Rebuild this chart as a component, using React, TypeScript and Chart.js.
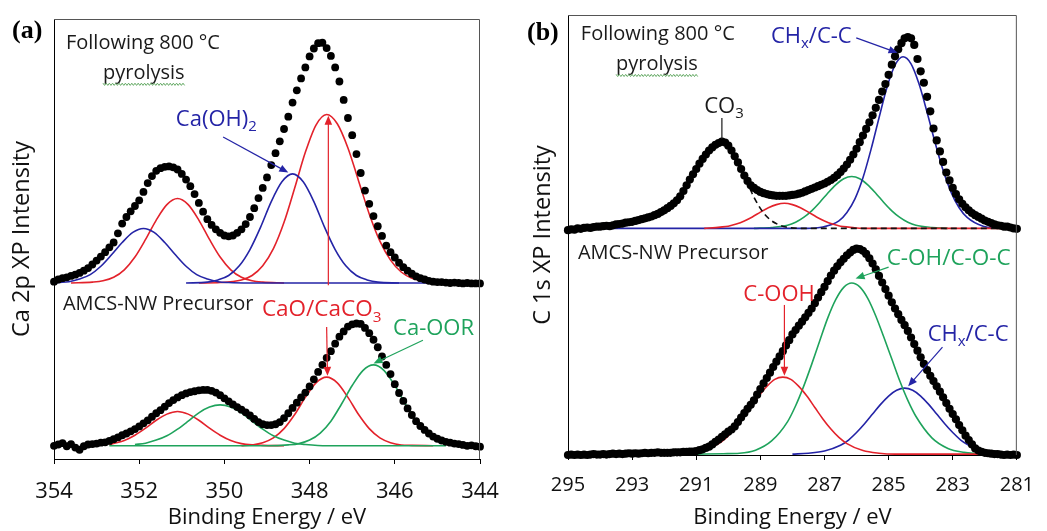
import { useEffect, useRef } from 'react';
import { Chart, registerables } from 'chart.js';

Chart.register(...registerables);

const FONT = "'Open Sans', 'Noto Sans', sans-serif";
const BLUE = '#2424a6';
const RED = '#e3222b';
const GREEN = '#1fa35c';
const INK = '#1a1a1a';

// ---------- Panel (a): Ca 2p ----------
const caEnergy = [
  354, 353.9, 353.8, 353.7, 353.6, 353.5, 353.4, 353.3, 353.2, 353.1,
  353, 352.9, 352.8, 352.7, 352.6, 352.5, 352.4, 352.3, 352.2, 352.1,
  352, 351.9, 351.8, 351.7, 351.6, 351.5, 351.4, 351.3, 351.2, 351.1,
  351, 350.9, 350.8, 350.7, 350.6, 350.5, 350.4, 350.3, 350.2, 350.1,
  350, 349.9, 349.8, 349.7, 349.6, 349.5, 349.4, 349.3, 349.2, 349.1,
  349, 348.9, 348.8, 348.7, 348.6, 348.5, 348.4, 348.3, 348.2, 348.1,
  348, 347.9, 347.8, 347.7, 347.6, 347.5, 347.4, 347.3, 347.2, 347.1,
  347, 346.9, 346.8, 346.7, 346.6, 346.5, 346.4, 346.3, 346.2, 346.1,
  346, 345.9, 345.8, 345.7, 345.6, 345.5, 345.4, 345.3, 345.2, 345.1,
  345, 344.9, 344.8, 344.7, 344.6, 344.5, 344.4, 344.3, 344.2, 344.1,
  344,
];

// "Following 800 °C pyrolysis" spectrum (offset upward)
const caTopCounts = [
  40.3, 40.8, 41.1, 41.3, 41.6, 41.9, 42.3, 42.8, 43.4, 44.2,
  45.1, 46.0, 47.0, 48.1, 49.2, 51.3, 53.5, 55.0, 56.3, 57.5,
  58.8, 60.7, 62.7, 64.3, 65.5, 66.1, 66.4, 66.5, 66.3, 65.8,
  64.8, 63.5, 62.0, 60.2, 58.2, 56.2, 54.5, 53.2, 52.2, 51.4,
  50.8, 50.6, 50.8, 51.4, 52.2, 53.4, 55.0, 57.0, 59.3, 61.6,
  64.0, 66.8, 69.5, 72.2, 75.0, 77.8, 81.0, 83.8, 86.5, 89.0,
  91.5, 93.3, 94.5, 94.6, 93.4, 91.6, 89.0, 85.8, 81.6, 77.5,
  73.6, 69.3, 65.0, 61.0, 58.0, 55.2, 52.9, 50.7, 48.5, 47.0,
  45.8, 44.6, 43.6, 42.8, 42.1, 41.5, 41.1, 40.8, 40.5, 40.3,
  40.2, 40.2, 40.1, 40.0, 40.1, 40.0, 39.9, 40.0, 39.9, 39.9,
  39.9,
];

// "AMCS-NW Precursor" spectrum
const caBottomCounts = [
  3.0, 3.3, 3.6, 2.9, 3.4, 2.6, 2.1, 2.9, 3.3, 3.4,
  3.5, 3.7, 3.8, 4.1, 4.5, 4.9, 5.4, 5.8, 6.3, 6.8,
  7.4, 8.1, 8.8, 9.6, 10.4, 11.1, 11.9, 12.7, 13.4, 14.0,
  14.5, 14.9, 15.2, 15.4, 15.6, 15.7, 15.7, 15.5, 15.1, 14.5,
  13.8, 13.1, 12.4, 11.8, 11.2, 10.6, 9.9, 9.1, 8.4, 7.9,
  7.7, 7.7, 7.9, 8.4, 9.3, 10.4, 11.6, 12.8, 14.0, 15.1,
  16.5, 18.1, 19.8, 21.4, 23.0, 24.5, 26.2, 27.8, 29.0, 30.1,
  30.6, 30.8, 30.7, 29.8, 28.6, 27.1, 25.4, 23.3, 21.4, 19.3,
  17.0, 15.0, 13.2, 11.5, 10.0, 8.6, 7.5, 6.6, 5.8, 5.1,
  4.6, 4.2, 3.9, 3.7, 3.5, 3.4, 3.2, 3.0, 3.1, 2.9,
  2.8,
];

// fitted components [energy, intensity]
const caTopBlue1: [number, number][] = [
  [354, 40], [353.9, 40.1], [353.65, 40.3], [353.4, 40.9], [353.15, 41.9], [352.9, 43.8],
  [352.65, 46.4], [352.4, 49.2], [352.15, 51.5], [351.9, 52.4], [351.65, 51.5], [351.4, 49.2],
  [351.15, 46.4], [350.9, 43.8], [350.65, 41.9], [350.4, 40.9], [350.15, 40.3], [349.9, 40.1],
  [349.4, 40], [344, 40],
];
const caTopRed1: [number, number][] = [
  [353.6, 40], [353.1, 40.2], [352.85, 40.5], [352.6, 41.3], [352.35, 43.0],
  [352.1, 45.9], [351.85, 49.9], [351.6, 54.3], [351.35, 57.8], [351.1, 59.2], [350.85, 57.8],
  [350.6, 54.3], [350.35, 49.9], [350.1, 45.9], [349.85, 43.0], [349.6, 41.3], [349.35, 40.5],
  [349.1, 40.2], [348.6, 40],
];
const caTopBlue2: [number, number][] = [
  [350.9, 40], [350.4, 40.2], [350.15, 40.7], [349.9, 41.7], [349.65, 43.9],
  [349.4, 47.6], [349.15, 52.7], [348.9, 58.5], [348.65, 63.0], [348.4, 64.8], [348.15, 63.0],
  [347.9, 58.5], [347.65, 52.7], [347.4, 47.6], [347.15, 43.9], [346.9, 41.7], [346.65, 40.7],
  [346.4, 40.2], [345.9, 40],
];
const caTopRed2: [number, number][] = [
  [350.6, 40], [350.1, 40.1], [349.6, 40.7], [349.35, 41.7], [349.1, 43.9],
  [348.85, 47.8], [348.6, 53.8], [348.35, 61.6], [348.1, 69.7], [347.85, 75.9], [347.6, 78.3],
  [347.35, 76.2], [347.1, 70.7], [346.85, 63.2], [346.6, 55.7], [346.35, 49.5], [346.1, 45.2],
  [345.85, 42.5], [345.6, 41.1], [345.1, 40.2], [344.6, 40],
];
const caBotRed1: [number, number][] = [
  [352.7, 3.2], [352.6, 3.5], [352.35, 4.2], [352.1, 5.4], [351.85, 7.0], [351.6, 8.8],
  [351.35, 10.2], [351.1, 10.8], [350.85, 10.2], [350.6, 8.8], [350.35, 7.0], [350.1, 5.4],
  [349.85, 4.2], [349.6, 3.5], [349.35, 3.2], [349.1, 3.1], [348.6, 3.0],
];
const caBotGreen1: [number, number][] = [
  [352.1, 3.3], [351.85, 3.6], [351.6, 4.3], [351.35, 5.3], [351.1, 6.8],
  [350.85, 8.6], [350.6, 10.5], [350.35, 11.8], [350.1, 12.3], [349.85, 11.8], [349.6, 10.5],
  [349.35, 8.6], [349.1, 6.8], [348.85, 5.3], [348.6, 4.3], [348.35, 3.6], [348.1, 3.3],
  [347.6, 3.0], [344.8, 3.0],
];
const caBotRed2: [number, number][] = [
  [349.6, 3.0], [349.35, 3.2], [349.1, 3.7], [348.85, 4.8], [348.6, 6.9],
  [348.35, 10.1], [348.1, 14.0], [347.85, 17.3], [347.6, 18.6], [347.35, 17.3], [347.1, 14.0],
  [346.85, 10.1], [346.6, 6.9], [346.35, 4.8], [346.1, 3.7], [345.85, 3.2], [345.6, 3.1],
  [345.1, 3.0],
];
const caBotGreen2: [number, number][] = [
  [352.7, 3.0], [349.0, 3.0], [348.5, 3.2], [348.25, 3.5], [348.0, 4.3], [347.75, 5.9],
  [347.5, 8.6], [347.25, 12.5], [347.0, 16.7], [346.75, 20.1], [346.5, 21.4], [346.25, 20.1],
  [346.0, 16.7], [345.75, 12.5], [345.5, 8.6], [345.25, 5.9], [345.0, 4.3], [344.8, 3.6],
];

// ---------- Panel (b): C 1s ----------
const cEnergy = [
  295, 294.9, 294.8, 294.7, 294.6, 294.5, 294.4, 294.3, 294.2, 294.1,
  294, 293.9, 293.8, 293.7, 293.6, 293.5, 293.4, 293.3, 293.2, 293.1,
  293, 292.9, 292.8, 292.7, 292.6, 292.5, 292.4, 292.3, 292.2, 292.1,
  292, 291.9, 291.8, 291.7, 291.6, 291.5, 291.4, 291.3, 291.2, 291.1,
  291, 290.9, 290.8, 290.7, 290.6, 290.5, 290.4, 290.3, 290.2, 290.1,
  290, 289.9, 289.8, 289.7, 289.6, 289.5, 289.4, 289.3, 289.2, 289.1,
  289, 288.9, 288.8, 288.7, 288.6, 288.5, 288.4, 288.3, 288.2, 288.1,
  288, 287.9, 287.8, 287.7, 287.6, 287.5, 287.4, 287.3, 287.2, 287.1,
  287, 286.9, 286.8, 286.7, 286.6, 286.5, 286.4, 286.3, 286.2, 286.1,
  286, 285.9, 285.8, 285.7, 285.6, 285.5, 285.4, 285.3, 285.2, 285.1,
  285, 284.9, 284.8, 284.7, 284.6, 284.5, 284.4, 284.3, 284.2, 284.1,
  284, 283.9, 283.8, 283.7, 283.6, 283.5, 283.4, 283.3, 283.2, 283.1,
  283, 282.9, 282.8, 282.7, 282.6, 282.5, 282.4, 282.3, 282.2, 282.1,
  282, 281.9, 281.8, 281.7, 281.6, 281.5, 281.4, 281.3, 281.2, 281.1,
  281,
];

const cTopCounts = [
  51.1, 51.3, 51.2, 51.5, 51.4, 51.6, 51.7, 51.6, 51.8, 51.9,
  51.9, 52.0, 52.1, 52.0, 52.2, 52.4, 52.5, 52.6, 52.8, 52.9,
  53.0, 53.2, 53.4, 53.6, 53.8, 54.0, 54.2, 54.5, 54.8, 55.2,
  55.6, 56.1, 56.6, 57.2, 57.9, 58.8, 60.0, 61.3, 62.6, 63.8,
  65.0, 66.2, 67.3, 68.3, 69.2, 69.9, 70.5, 70.9, 71.2, 71.0,
  70.3, 69.2, 67.9, 66.5, 65.0, 63.5, 62.3, 61.3, 60.7, 60.2,
  59.8, 59.5, 59.3, 59.1, 59.0, 58.9, 58.9, 58.9, 58.9, 59.0,
  59.1, 59.2, 59.4, 59.6, 59.9, 60.2, 60.5, 60.8, 61.1, 61.4,
  61.7, 62.1, 62.5, 63.0, 63.6, 64.3, 65.1, 66.0, 67.1, 68.3,
  69.6, 71.1, 72.6, 74.1, 75.6, 77.2, 78.9, 80.7, 82.6, 84.3,
  86.4, 88.7, 90.6, 92.2, 93.6, 94.7, 95.0, 94.7, 93.2, 90.0,
  87.2, 84.6, 81.4, 78.1, 74.2, 71.5, 69.0, 66.6, 64.2, 62.4,
  60.7, 59.3, 58.1, 57.1, 56.3, 55.6, 55.0, 54.5, 54.1, 53.7,
  53.3, 53.0, 52.7, 52.4, 52.2, 52.1, 51.9, 51.9, 51.7, 51.5,
  51.4,
];

const cBottomCounts = [
  0.0, 0.1, 0.0, 0.1, 0.0, 0.1, 0.0, 0.1, 0.2, 0.1,
  0.1, 0.2, 0.1, 0.2, 0.3, 0.2, 0.3, 0.2, 0.3, 0.4,
  0.3, 0.4, 0.3, 0.4, 0.5, 0.4, 0.5, 0.5, 0.6, 0.5,
  0.5, 0.5, 0.5, 0.6, 0.6, 0.6, 0.7, 0.7, 0.8, 0.8,
  0.9, 1.1, 1.3, 1.6, 1.9, 2.4, 3.0, 3.5, 4.1, 4.7,
  5.3, 5.8, 6.5, 7.5, 8.5, 9.5, 10.5, 11.4, 12.4, 13.7,
  15.0, 16.3, 17.5, 18.7, 20.0, 21.2, 22.4, 23.6, 24.9, 26.1,
  27.4, 28.4, 29.4, 30.3, 31.3, 32.3, 33.3, 34.5, 35.8, 37.0,
  38.2, 39.5, 40.8, 41.9, 42.9, 43.8, 44.6, 45.4, 46.0, 46.6,
  46.9, 46.8, 46.4, 45.7, 44.7, 43.5, 42.2, 40.7, 39.2, 37.7,
  36.2, 34.7, 33.3, 32.0, 30.7, 29.5, 28.2, 26.7, 25.2, 23.7,
  22.2, 20.7, 19.3, 18.0, 16.8, 15.6, 14.4, 13.1, 11.8, 10.5,
  9.3, 8.1, 6.8, 5.6, 4.4, 3.4, 2.4, 1.5, 1.0, 0.7,
  0.5, 0.4, 0.3, 0.2, 0.2, 0.1, 0.0, 0.1, 0.0, 0.1,
  0.0,
];

const cTopCO3: [number, number][] = [
  [293.2, 52.2], [292.7, 52.9], [292.2, 54.2], [291.95, 55.2], [291.7, 56.8],
  [291.45, 59.0], [291.2, 62.3], [290.95, 65.4], [290.7, 68.2], [290.45, 70.2], [290.2, 71.2],
  [289.95, 70.0], [289.7, 66.8], [289.45, 62.6], [289.2, 58.6], [288.95, 55.5], [288.7, 53.5],
  [288.45, 52.4], [288.2, 51.8], [287.7, 51.5], [281, 51.5],
];
const cTopRed: [number, number][] = [
  [290.75, 51.5], [290.25, 51.8], [290.0, 52.0], [289.75, 52.5], [289.5, 53.2],
  [289.25, 54.1], [289.0, 55.2], [288.75, 56.2], [288.5, 56.9], [288.25, 57.2], [288.0, 56.9],
  [287.75, 56.2], [287.5, 55.2], [287.25, 54.1], [287.0, 53.2], [286.75, 52.5], [286.5, 52.0],
  [286.25, 51.8], [285.75, 51.5], [281, 51.5],
];
const cTopGreen: [number, number][] = [
  [289.2, 51.5], [288.65, 51.7], [288.15, 52.2], [287.9, 52.9], [287.65, 54.0],
  [287.4, 55.5], [287.15, 57.4], [286.9, 59.5], [286.65, 61.4], [286.4, 62.8], [286.15, 63.3],
  [285.9, 62.8], [285.65, 61.4], [285.4, 59.5], [285.15, 57.4], [284.9, 55.5], [284.65, 54.0],
  [284.4, 52.9], [284.15, 52.2], [283.65, 51.7], [283.15, 51.5],
];
const cTopBlue: [number, number][] = [
  [295, 51.5], [287.55, 51.5], [287.05, 51.8], [286.55, 53.2], [286.3, 55.1], [286.05, 58.2],
  [285.8, 63.0], [285.55, 69.4], [285.3, 76.6], [285.05, 83.6], [284.8, 88.6], [284.55, 90.5],
  [284.3, 88.9], [284.05, 84.3], [283.8, 77.9], [283.55, 71.0], [283.3, 64.7], [283.05, 59.7],
  [282.8, 56.2], [282.55, 54.0], [282.05, 52.0], [281.55, 51.6],
];
const cBotRed: [number, number][] = [
  [291.0, 0.7], [290.8, 1.0], [290.3, 2.6], [290.05, 4.0], [289.8, 5.9], [289.55, 8.2],
  [289.3, 10.8], [289.05, 13.4], [288.8, 15.6], [288.55, 17.2], [288.3, 17.7], [288.05, 17.2],
  [287.8, 15.6], [287.55, 13.4], [287.3, 10.8], [287.05, 8.2], [286.8, 5.9], [286.55, 4.0],
  [286.3, 2.6], [285.8, 1.0], [285.3, 0.4], [284.8, 0.2], [282.2, 0.2],
];
const cBotGreen: [number, number][] = [
  [291.0, 0.2], [290.15, 0.3], [289.65, 0.4], [289.15, 1.1], [288.65, 3.2], [288.15, 7.6],
  [287.9, 11.2], [287.65, 15.6], [287.4, 20.6], [287.15, 25.9], [286.9, 31.1], [286.65, 35.3],
  [286.4, 38.1], [286.15, 39.1], [285.9, 38.2], [285.65, 35.6], [285.4, 31.6], [285.15, 26.8],
  [284.9, 21.8], [284.65, 16.8], [284.4, 12.4], [284.15, 8.8], [283.65, 3.9], [283.15, 1.5],
  [282.65, 0.6], [282.2, 0.3],
];
const cBotBlue: [number, number][] = [
  [288.0, 0.2], [287.5, 0.4], [287.0, 0.9], [286.5, 2.2], [286.25, 3.4],
  [286.0, 5.1], [285.75, 7.1], [285.5, 9.3], [285.25, 11.5], [285.0, 13.4], [284.75, 14.7],
  [284.5, 15.2], [284.25, 14.7], [284.0, 13.4], [283.75, 11.5], [283.5, 9.3], [283.25, 7.1],
  [283.0, 5.1], [282.75, 3.4], [282.5, 2.2], [282.2, 1.2],
];

// ---------- annotations (data coordinates) ----------
type Part = { t: string; sub?: boolean };
type Note = { parts: Part[]; at: [number, number]; color: string; size: number; squiggle?: boolean };
type Arrow = { from: [number, number]; to: [number, number]; color: string; head?: boolean };

const caNotes: Note[] = [
  { parts: [{ t: 'Following 800 °C' }], at: [353.72, 94.8], color: INK, size: 20 },
  { parts: [{ t: 'pyrolysis' }], at: [352.85, 88.0], color: INK, size: 20, squiggle: true },
  { parts: [{ t: 'Ca(OH)' }, { t: '2', sub: true }], at: [351.14, 77.5], color: BLUE, size: 22 },
  { parts: [{ t: 'AMCS-NW Precursor' }], at: [353.79, 35.45], color: INK, size: 20 },
  { parts: [{ t: 'CaO/CaCO' }, { t: '3', sub: true }], at: [349.12, 34.3], color: RED, size: 22.5 },
  { parts: [{ t: 'Ca-OOR' }], at: [346.04, 30.0], color: GREEN, size: 22 },
];
const caArrows: Arrow[] = [
  { from: [350.03, 73.2], to: [348.5, 65.1], color: BLUE, head: true },
  { from: [347.56, 39.5], to: [347.56, 78.0], color: RED, head: true },
  { from: [347.6, 30.0], to: [347.58, 18.9], color: RED, head: true },
  { from: [345.34, 27.0], to: [346.5, 21.7], color: GREEN, head: true },
];
const cNotes: Note[] = [
  { parts: [{ t: 'Following 800 °C' }], at: [294.6, 95.9], color: INK, size: 20 },
  { parts: [{ t: 'pyrolysis' }], at: [293.5, 89.1], color: INK, size: 20, squiggle: true },
  { parts: [{ t: 'CH' }, { t: 'x', sub: true }, { t: '/C-C' }], at: [288.67, 95.45], color: BLUE, size: 22 },
  { parts: [{ t: 'CO' }, { t: '3', sub: true }], at: [290.75, 79.5], color: INK, size: 22 },
  { parts: [{ t: 'AMCS-NW Precursor' }], at: [294.69, 46.1], color: INK, size: 20 },
  { parts: [{ t: 'C-OH/C-O-C' }], at: [285.06, 45.0], color: GREEN, size: 22.5 },
  { parts: [{ t: 'C-OOH' }], at: [289.53, 36.8], color: RED, size: 22 },
  { parts: [{ t: 'CH' }, { t: 'x', sub: true }, { t: '/C-C' }], at: [283.78, 27.7], color: BLUE, size: 22 },
];
const cArrows: Arrow[] = [
  { from: [286.01, 94.8], to: [284.72, 91.4], color: BLUE, head: true },
  { from: [290.2, 76.6], to: [290.2, 71.8], color: INK, head: false },
  { from: [285.0, 42.7], to: [286.03, 40.1], color: GREEN, head: true },
  { from: [288.25, 34.1], to: [288.25, 18.0], color: RED, head: true },
  { from: [283.32, 24.5], to: [284.39, 15.6], color: BLUE, head: true },
];

// ---------- helpers ----------
function dotSet(es: number[], vs: number[], r: number) {
  return {
    data: es.map((x, i) => ({ x, y: vs[i] })),
    showLine: false,
    pointRadius: r,
    pointBackgroundColor: '#000',
    pointBorderColor: '#000',
    pointBorderWidth: 0,
    clip: false as const,
    order: 0,
  };
}
function curveSet(pts: [number, number][], color: string, order: number, dash: number[] = []) {
  return {
    data: pts.map(([x, y]) => ({ x, y })),
    borderColor: color,
    borderWidth: 1.6,
    borderDash: dash,
    pointRadius: 0,
    cubicInterpolationMode: 'monotone' as const,
    fill: false,
    showLine: true,
    order,
  };
}

function notesPlugin(notes: Note[], arrows: Arrow[], tag: string, tagPos: [number, number]) {
  return {
    id: 'notes',
    afterDatasetsDraw(chart: any) {
      const ctx: CanvasRenderingContext2D = chart.ctx;
      const xs = chart.scales.x;
      const ys = chart.scales.y;
      ctx.save();
      arrows.forEach((a) => {
        const x1 = xs.getPixelForValue(a.from[0]);
        const y1 = ys.getPixelForValue(a.from[1]);
        const x2 = xs.getPixelForValue(a.to[0]);
        const y2 = ys.getPixelForValue(a.to[1]);
        const ang = Math.atan2(y2 - y1, x2 - x1);
        const hl = a.head ? 9 : 0;
        const hw = 3.8;
        ctx.strokeStyle = a.color;
        ctx.fillStyle = a.color;
        ctx.lineWidth = 1.2;
        ctx.beginPath();
        ctx.moveTo(x1, y1);
        ctx.lineTo(x2 - hl * 0.8 * Math.cos(ang), y2 - hl * 0.8 * Math.sin(ang));
        ctx.stroke();
        if (a.head) {
          const bx = x2 - hl * Math.cos(ang);
          const by = y2 - hl * Math.sin(ang);
          ctx.beginPath();
          ctx.moveTo(x2, y2);
          ctx.lineTo(bx + hw * Math.sin(ang), by - hw * Math.cos(ang));
          ctx.lineTo(bx - hw * Math.sin(ang), by + hw * Math.cos(ang));
          ctx.closePath();
          ctx.fill();
        }
      });
      notes.forEach((n) => {
        const x0 = xs.getPixelForValue(n.at[0]);
        const yc = ys.getPixelForValue(n.at[1]);
        const base = yc + n.size * 0.36;
        let px = x0;
        ctx.textBaseline = 'alphabetic';
        ctx.textAlign = 'left';
        ctx.fillStyle = n.color;
        n.parts.forEach((p) => {
          const fs = p.sub ? n.size * 0.68 : n.size;
          ctx.font = `${fs}px ${FONT}`;
          ctx.fillText(p.t, px, p.sub ? base + n.size * 0.24 : base);
          px += ctx.measureText(p.t).width;
        });
        if (n.squiggle) {
          const yb = yc + 12.5;
          ctx.strokeStyle = '#62a862';
          ctx.lineWidth = 1;
          ctx.beginPath();
          let k = 0;
          for (let xx = x0; xx <= px; xx += 1.6, k++) {
            const yy = yb + (k % 2 ? 1.1 : -1.1);
            if (k === 0) ctx.moveTo(xx, yy);
            else ctx.lineTo(xx, yy);
          }
          ctx.stroke();
        }
      });
      ctx.font = `bold 26px 'Liberation Serif', 'Times New Roman', serif`;
      ctx.fillStyle = '#000';
      ctx.textBaseline = 'middle';
      ctx.textAlign = 'left';
      ctx.fillText(tag, tagPos[0], tagPos[1]);
      ctx.restore();
    },
    afterDraw(chart: any) {
      const { ctx, chartArea } = chart;
      ctx.save();
      ctx.strokeStyle = '#555';
      ctx.lineWidth = 1;
      ctx.beginPath();
      ctx.moveTo(chartArea.left, chartArea.top + 0.5);
      ctx.lineTo(chartArea.right - 0.5, chartArea.top + 0.5);
      ctx.lineTo(chartArea.right - 0.5, chartArea.bottom);
      ctx.stroke();
      ctx.restore();
    },
  };
}

type PanelCfg = {
  datasets: any[];
  min: number;
  max: number;
  yTitle: string;
  tickSize: number;
  tickPad: number;
  yWidth: number;
  xHeight: number;
  padRight: number;
  padTop: number;
  yTitlePad: number;
  plugin: any;
};

function buildConfig(p: PanelCfg): any {
  return {
    type: 'line',
    data: { datasets: p.datasets },
    plugins: [p.plugin],
    options: {
      animation: false,
      responsive: false,
      maintainAspectRatio: false,
      events: [],
      layout: { padding: { left: 0, right: p.padRight, top: p.padTop, bottom: 0 } },
      plugins: { legend: { display: false }, tooltip: { enabled: false } },
      scales: {
        x: {
          type: 'linear',
          min: p.min,
          max: p.max,
          reverse: true,
          ticks: {
            stepSize: 2,
            autoSkip: false,
            maxRotation: 0,
            padding: p.tickPad,
            color: '#111',
            font: { family: FONT, size: p.tickSize },
          },
          grid: { display: true, drawOnChartArea: false, drawTicks: true, tickLength: 5, color: '#000', lineWidth: 1 },
          border: { display: true, color: '#000', width: 1 },
          title: {
            display: true,
            text: 'Binding Energy / eV',
            color: '#111',
            font: { family: FONT, size: 22, lineHeight: 1.2 },
            padding: { top: 0, bottom: 0 },
          },
          afterFit: (s: any) => {
            s.height = p.xHeight;
          },
        },
        y: {
          type: 'linear',
          min: 0,
          max: 100,
          ticks: { display: false },
          grid: { display: false },
          border: { display: true, color: '#000', width: 1 },
          title: {
            display: true,
            text: p.yTitle,
            color: '#111',
            font: { family: FONT, size: 23.5, lineHeight: 1.2 },
            padding: { top: p.yTitlePad, bottom: 0 },
          },
          afterFit: (s: any) => {
            s.width = p.yWidth;
          },
        },
      },
    },
  };
}

function caConfig() {
  return buildConfig({
    datasets: [
      dotSet(caEnergy, caTopCounts, 3.9),
      dotSet(caEnergy, caBottomCounts, 3.9),
      curveSet(caTopBlue1, BLUE, 1),
      curveSet(caTopBlue2, BLUE, 1),
      curveSet(caTopRed1, RED, 2),
      curveSet(caTopRed2, RED, 2),
      curveSet(caBotGreen1, GREEN, 1),
      curveSet(caBotGreen2, GREEN, 1),
      curveSet(caBotRed1, RED, 2),
      curveSet(caBotRed2, RED, 2),
    ],
    min: 344,
    max: 354,
    yTitle: 'Ca 2p XP Intensity',
    tickSize: 22,
    tickPad: 15,
    yWidth: 54,
    xHeight: 72,
    padRight: 40,
    padTop: 19,
    yTitlePad: 8.5,
    plugin: notesPlugin(caNotes, caArrows, '(a)', [12, 31]),
  });
}

function cConfig() {
  return buildConfig({
    datasets: [
      dotSet(cEnergy, cTopCounts, 4.1),
      dotSet(cEnergy, cBottomCounts, 4.1),
      curveSet(cTopCO3, '#111', 1, [6, 4]),
      curveSet(cTopRed, RED, 2),
      curveSet(cTopBlue, BLUE, 3),
      curveSet(cTopGreen, GREEN, 4),
      curveSet(cBotRed, RED, 1),
      curveSet(cBotGreen, GREEN, 2),
      curveSet(cBotBlue, BLUE, 3),
    ],
    min: 281,
    max: 295,
    yTitle: 'C 1s XP Intensity',
    tickSize: 20,
    tickPad: 13,
    yWidth: 48,
    xHeight: 76,
    padRight: 21,
    padTop: 15,
    yTitlePad: 9,
    plugin: notesPlugin(cNotes, cArrows, '(b)', [7, 33]),
  });
}

function Panel({ make, left, width, height }: { make: () => any; left: number; width: number; height: number }) {
  const ref = useRef<HTMLCanvasElement>(null);
  useEffect(() => {
    if (!ref.current) return;
    const chart = new Chart(ref.current, make());
    return () => chart.destroy();
  }, [make]);
  return (
    <canvas
      ref={ref}
      width={width}
      height={height}
      style={{ position: 'absolute', left, top: 0, width, height, display: 'block' }}
    />
  );
}

Chart.defaults.font.family = FONT;

export default function App() {
  return (
    <div style={{ position: 'absolute', left: 0, top: 0, width: 1047, height: 531, background: '#fff', overflow: 'hidden' }}>
      <Panel make={caConfig} left={0} width={520} height={531} />
      <Panel make={cConfig} left={520} width={527} height={531} />
    </div>
  );
}
